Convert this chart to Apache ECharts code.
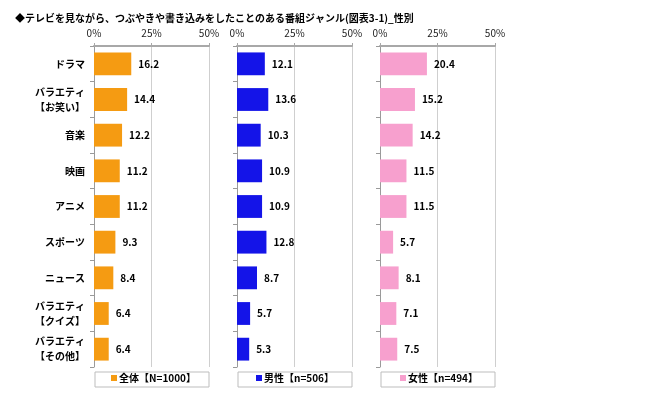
<!DOCTYPE html>
<html><head><meta charset="utf-8">
<script src="https://cdn.jsdelivr.net/npm/echarts@6/dist/echarts.min.js"></script>
<style>html,body{margin:0;padding:0;background:#fff}#c{width:662px;height:393px}</style>
</head><body><div id="c"></div>
<script>
const titleText = '◆テレビを見ながら、つぶやきや書き込みをしたことのある番組ジャンル(図表3-1)_性別';
const categories = ['ドラマ','バラエティ\n【お笑い】','音楽','映画','アニメ','スポーツ','ニュース','バラエティ\n【クイズ】','バラエティ\n【その他】'];
const seriesNames = ['全体【N=1000】','男性【n=506】','女性【n=494】'];
const totalValues = [16.2,14.4,12.2,11.2,11.2,9.3,8.4,6.4,6.4];
const maleValues = [12.1,13.6,10.3,10.9,10.9,12.8,8.7,5.7,5.3];
const femaleValues = [20.4,15.2,14.2,11.5,11.5,5.7,8.1,7.1,7.5];
const tickValues = [0,25,50];

const FONT = '"Noto Sans CJK JP", "Noto Sans", sans-serif';
const colors = ['#F59B12','#1414E8','#F7A0CE'];
const lefts = [94,237,380];
const W = 115, TOP = 46, H = 321;
const allValues = [totalValues, maleValues, femaleValues];

const grids = [], xAxes = [], yAxes = [], series = [], legends = [], graphics = [];
const legendLefts = [111, 256, 400];
for (let i = 0; i < 3; i++) {
  grids.push({left: lefts[i], top: TOP, width: W, height: H, containLabel: false});
  xAxes.push({
    type: 'value', gridIndex: i, position: 'top', min: tickValues[0], max: tickValues[2], interval: 25,
    axisLine: {show: true, lineStyle: {color: '#a8a8a8', width: 2}},
    axisTick: {show: true, length: 3, lineStyle: {color: '#a8a8a8'}},
    axisLabel: {formatter: '{value}%', fontSize: 10, color: '#222', fontFamily: FONT, margin: 8},
    splitLine: {show: true, lineStyle: {color: '#cfcfcf', width: 1}}
  });
  yAxes.push({
    type: 'category', gridIndex: i, data: categories, inverse: true,
    axisLine: {show: true, lineStyle: {color: '#9a9a9a', width: 1}},
    axisTick: {show: true, length: 4, lineStyle: {color: '#9a9a9a'}},
    axisLabel: {show: i === 0, fontSize: 10, fontWeight: 'bold', color: '#000', fontFamily: FONT, margin: 9, lineHeight: 15}
  });
  series.push({
    name: seriesNames[i], type: 'bar', xAxisIndex: i, yAxisIndex: i,
    data: allValues[i], barCategoryGap: '36%',
    itemStyle: {color: colors[i]},
    label: {show: true, position: 'right', distance: 7, fontSize: 10, fontWeight: 'bold', color: '#000', fontFamily: FONT},
    emphasis: {disabled: true}, animation: false
  });
  legends.push({
    data: [seriesNames[i]], left: legendLefts[i], top: 373, selectedMode: false,
    icon: 'rect', itemWidth: 6, itemHeight: 6, itemGap: 2, padding: 0,
    textStyle: {fontSize: 10, fontWeight: 'bold', color: '#000', fontFamily: FONT, padding: [0,0,0,-3]}
  });
  graphics.push({type: 'rect', shape: {x: lefts[i] + 1, y: 372, width: W - 1, height: 15},
    style: {fill: 'none', stroke: '#bdbdbd', lineWidth: 1}, z: 0});
}

const chart = echarts.init(document.getElementById('c'), null, {renderer: 'canvas'});
chart.setOption({
  animation: false,
  title: {text: titleText, left: 10, top: 8, textStyle: {fontSize: 10, fontWeight: 'bold', color: '#000', fontFamily: FONT}},
  grid: grids, xAxis: xAxes, yAxis: yAxes, series: series, legend: legends, graphic: graphics
});
</script></body></html>
